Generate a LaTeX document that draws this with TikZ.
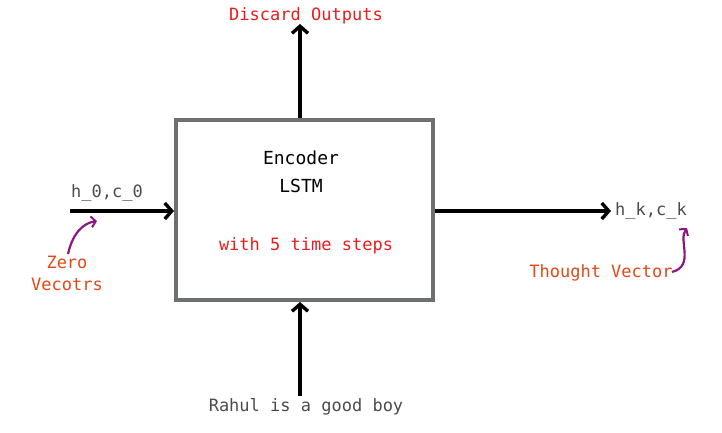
\documentclass[tikz,border=0pt]{standalone}
\usepackage{fontspec}
\setmonofont{DejaVu Sans Mono}
\usetikzlibrary{arrows.meta}
\definecolor{boxgray}{RGB}{110,112,112}
\definecolor{labgray}{RGB}{75,75,75}
\definecolor{hotred}{RGB}{232,28,28}
\definecolor{orangered}{RGB}{226,72,22}
\definecolor{plum}{RGB}{140,22,130}
\begin{document}
\begin{tikzpicture}[x=1pt, y=-1pt, font=\ttfamily\fontsize{17}{21}\selectfont,
        flow/.style={line width=3.6pt, -{Straight Barb[length=7pt, width=16pt, line width=3.4pt]}},
        note/.style={line width=2.2pt, plum, -{Straight Barb[length=4.5pt, width=11pt, line width=2pt]}},
        label/.style={text=labgray, inner sep=0pt}]
        \useasboundingbox (0,0) rectangle (722,433);
        \node[draw=boxgray, line width=4pt, minimum width=257pt, minimum height=180pt] (enc) at (304.5,210) {};
        \node[align=center, font=\ttfamily\fontsize{18}{28}\selectfont] (name) at (301,172) {Encoder\\LSTM};
        \node[hotred] (steps) at (306,246) {with 5 time steps};
        % outputs and inputs
        \node[hotred, inner sep=0pt] (discard) at (306,16) {Discard Outputs};
        \coordinate (up) at (300,24);
        \draw[flow] (enc.north -| up) -- (up);
        \node[label] (h0) at (107,193) {h\_0,c\_0};
        \coordinate (in) at (70,211);
        \draw[flow] (in) -- (enc.west |- in);
        \node[label, anchor=west] (hk) at (615,211) {h\_k,c\_k};
        \coordinate (out) at (611,211);
        \draw[flow] (enc.east |- out) -- (out);
        \node[label] (sent) at (306,407) {Rahul is a good boy};
        \coordinate (src) at (300,396);
        \draw[flow] (src) -- (enc.south -| src);
        % side notes
        \node[orangered, align=center, font=\ttfamily\fontsize{17}{22}\selectfont] (zero) at (67,273) {Zero\\Vecotrs};
        \coordinate (zerotip) at (97,221);
        \draw[note] (68,254) .. controls (73,232) and (84,223) .. (zerotip);
        \node[orangered] (thought) at (601,273) {Thought Vector};
        \coordinate (hktip) at (687,228);
        \draw[note] (672,272) .. controls (695,266) and (678,240) .. (hktip);
\end{tikzpicture}
\end{document}
